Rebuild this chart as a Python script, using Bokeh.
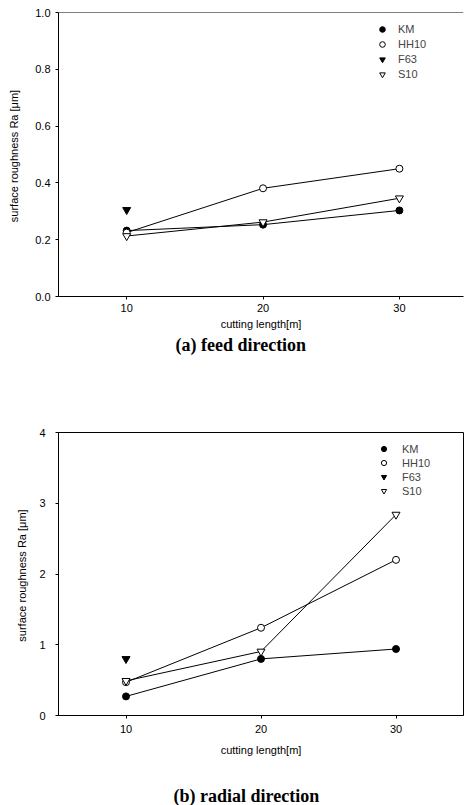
from bokeh.plotting import figure
from bokeh.models import Range1d, FixedTicker, NumeralTickFormatter, Title, Span, Legend, LegendItem
from bokeh.layouts import column
from bokeh.embed import file_html
from bokeh.resources import INLINE

# ---------------- data ----------------
lengths = [10, 20, 30]
series_names = ["KM", "HH10", "F63", "S10"]

# (a) feed direction
feed_km = [0.232, 0.253, 0.303]
feed_hh10 = [0.225, 0.381, 0.450]
feed_f63 = [0.305]
feed_s10 = [0.213, 0.262, 0.346]

# (b) radial direction
rad_km = [0.27, 0.80, 0.94]
rad_hh10 = [0.47, 1.24, 2.20]
rad_f63 = [0.80]
rad_s10 = [0.49, 0.905, 2.84]

feed_yticks = [0.0, 0.2, 0.4, 0.6, 0.8, 1.0]
rad_yticks = [0, 1, 2, 3, 4]
xticks = [10, 20, 30]

FONT = "Liberation Sans"
SERIF = "Liberation Serif"


def make_panel(width, height, border_top, border_left, border_bottom, border_right, xr, yr,
               yticks, yfmt, km, hh, f63, s10, caption, cap_offset, cap_gap,
               xtick_standoff, xlab_standoff, ytick_standoff, ylab_standoff,
               leg_loc, leg_glyph, leg_spacing, leg_standoff, outline):
    p = figure(width=width, height=height, output_backend="svg", toolbar_location=None,
               x_range=Range1d(*xr), y_range=Range1d(*yr),
               min_border_top=border_top, min_border_left=border_left,
               min_border_bottom=border_bottom, min_border_right=border_right)
    p.background_fill_color = "white"
    p.border_fill_color = "white"
    p.xgrid.visible = False
    p.ygrid.visible = False
    if outline:
        p.outline_line_color = "black"
    else:
        p.outline_line_color = None
        p.add_layout(Span(location=yr[1], dimension="width", line_color="black", line_width=1))

    for ax in (p.xaxis[0], p.yaxis[0]):
        ax.axis_line_color = "black"
        ax.major_tick_line_color = "black"
        ax.major_tick_in = 0
        ax.major_tick_out = 3
        ax.minor_tick_line_color = None
        ax.major_label_text_font = FONT
        ax.major_label_text_font_size = "11px"
        ax.major_label_text_color = "black"
        ax.axis_label_text_font = FONT
        ax.axis_label_text_font_size = "11px"
        ax.axis_label_text_font_style = "normal"
        ax.axis_label_text_color = "black"

    p.xaxis.ticker = FixedTicker(ticks=xticks)
    p.xaxis.major_label_standoff = xtick_standoff
    p.xaxis.axis_label = "cutting length[m]"
    p.xaxis.axis_label_standoff = xlab_standoff

    p.yaxis.ticker = FixedTicker(ticks=yticks)
    p.yaxis.formatter = NumeralTickFormatter(format=yfmt)
    p.yaxis.major_label_standoff = ytick_standoff
    p.yaxis.axis_label = "surface roughness  Ra [\u03bcm]"
    p.yaxis.axis_label_standoff = ylab_standoff

    # lines
    p.line(lengths, km, line_color="black", line_width=1)
    p.line(lengths, hh, line_color="black", line_width=1)
    p.line(lengths, s10, line_color="black", line_width=1)

    # markers
    r_km = p.scatter(lengths, km, marker="circle", size=7, fill_color="black", line_color="black")
    r_hh = p.scatter(lengths, hh, marker="circle", size=7, fill_color="white", line_color="black")
    r_f63 = p.scatter(lengths[:1], f63, marker="inverted_triangle", size=8, fill_color="black", line_color="black")
    r_s10 = p.scatter(lengths, s10, marker="inverted_triangle", size=8, fill_color="white", line_color="black")

    items = [LegendItem(label=n, renderers=[r]) for n, r in zip(series_names, [r_km, r_hh, r_f63, r_s10])]
    leg = Legend(items=items, location=leg_loc, margin=0, padding=0,
                 glyph_width=leg_glyph, glyph_height=leg_glyph, label_height=leg_glyph,
                 spacing=leg_spacing, label_standoff=leg_standoff,
                 label_text_font=FONT, label_text_font_size="11px",
                 background_fill_alpha=0, border_line_color=None)
    p.add_layout(leg)

    if cap_gap > 0:
        spacer = Title(text=" ", standoff=cap_gap, text_font_size="1px", text_color="white")
        p.add_layout(spacer, "below")
    t = Title(text=caption, align="left", offset=cap_offset, standoff=0,
              text_font=SERIF, text_font_style="bold", text_font_size="18px", text_color="black")
    p.add_layout(t, "below")
    return p


p1 = make_panel(465, 400, 12, 58, 104, 0, (5, 34.7), (0, 1.0), feed_yticks, "0.0",
                feed_km, feed_hh10, feed_f63, feed_s10, "(a) feed direction", 117, 0,
                4, 3, 5, 12, (317, 215), 14, 1, 9, outline=False)
p2 = make_panel(465, 405, 32, 52, 90, 2, (5, 35), (0, 4), rad_yticks, "0",
                rad_km, rad_hh10, rad_f63, rad_s10, "(b)  radial direction", 115, 22,
                6, 8, 10, 8, (319, 218), 13, 1, 12, outline=True)

layout = column(p1, p2, spacing=0)
open("out.html", "w").write(file_html(layout, INLINE))
